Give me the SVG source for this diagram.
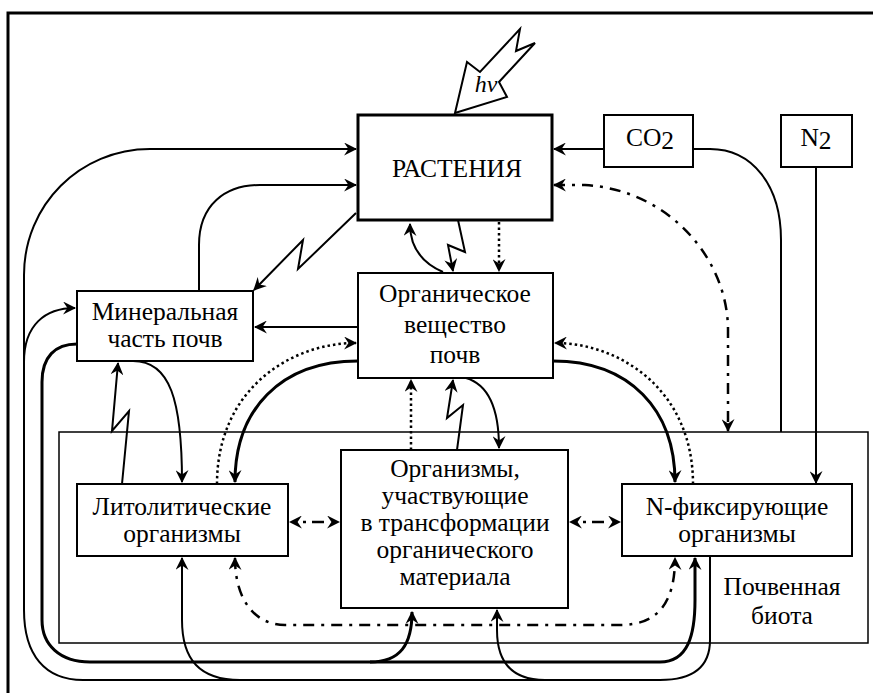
<svg xmlns="http://www.w3.org/2000/svg" width="873" height="693" viewBox="0 0 873 693" font-family="'Liberation Serif', 'DejaVu Serif', serif">
<style>
text{font-family:'Liberation Serif','DejaVu Serif',serif;font-size:25.5px;fill:#000;text-anchor:middle}
.box{fill:#fff;stroke:#000;stroke-width:2}
.c{fill:none;stroke:#000;stroke-width:2}
.t{fill:none;stroke:#000;stroke-width:3}
.dot{fill:none;stroke:#000;stroke-width:2.5;stroke-dasharray:2.5 3}
.dd{fill:none;stroke:#000;stroke-width:2.5;stroke-dasharray:11 7 3 7}
.hd{fill:none;stroke:#000;stroke-width:2.5;stroke-dasharray:0 13 3 6 12 40}
</style>
<defs>
<marker id="ah" viewBox="0 0 12 12" refX="11" refY="6" markerWidth="13" markerHeight="13" orient="auto-start-reverse" markerUnits="userSpaceOnUse">
<path d="M0,0 L12,6 L0,12 L4,6 z" fill="#000"/>
</marker>
</defs>
<rect width="873" height="693" fill="#fff"/>
<path d="M8,693 L8,13 L873,13" fill="none" stroke="#000" stroke-width="3"/>

<g id="biota">
<rect x="59" y="432" width="809" height="211" fill="none" stroke="#000" stroke-width="1.5"/>
<text x="782" y="595">Почвенная</text>
<text x="782" y="624">биота</text>
</g>

<g id="connectors">
<polygon points="455,113 467,62 480,72 520,29 516,51 535,43 499,82 507,97" fill="#fff" stroke="#000" stroke-width="2"/>
<path class="c" d="M604,149 L554,149" marker-end="url(#ah)"/>
<path class="c" d="M693,149 L710,149 C752,149 781,185 781,240 L781,432"/>
<path class="c" d="M816,167 L816,483" marker-end="url(#ah)"/>
<path class="dd" d="M554,185 L585,185 C670,190 728,260 728,330 L728,431" marker-start="url(#ah)" marker-end="url(#ah)"/>
<path class="c" d="M710,556 L710,640 C710,668 692,680 660,680 L83,680 C45,680 24,655 24,610 L24,275 C24,205 80,149 150,149 L356,149" marker-end="url(#ah)"/>
<path class="c" d="M24,362 C24,325 45,308 75,308" marker-end="url(#ah)"/>
<path class="c" d="M240,680 C200,680 182,660 182,620 L182,558" marker-end="url(#ah)"/>
<path class="c" d="M545,680 C510,680 497,660 497,630 L497,610" marker-end="url(#ah)"/>
<path class="t" d="M77,344 C55,344 42,357 42,382 L42,620 C42,645 60,662 90,662 L660,662 C688,662 695,635 695,600 L695,558" marker-end="url(#ah)"/>
<path class="t" d="M370,662 C400,662 412,645 412,612" marker-end="url(#ah)"/>
<path class="c" d="M199,291 L199,245 C199,205 225,185 260,185 L356,185" marker-end="url(#ah)"/>
<path class="c" d="M356,213 L298,269 L303,240 L254,290" marker-end="url(#ah)"/>
<path class="c" d="M358,327 L255,327" marker-end="url(#ah)"/>
<path class="c" d="M122,484 L129,411 L112,431 L118,363" marker-end="url(#ah)"/>
<path class="c" d="M133,361 C170,361 182,400 182,482" marker-end="url(#ah)"/>
<path class="dot" d="M217,484 C217,390 290,343 356,343" marker-end="url(#ah)"/>
<path class="t" d="M358,361 C280,361 235,410 235,482" marker-end="url(#ah)"/>
<path class="t" d="M553,361 C630,361 675,410 675,482" marker-end="url(#ah)"/>
<path class="dot" d="M693,484 C693,390 620,343 555,343" marker-end="url(#ah)"/>
<path class="c" d="M443,272 C420,262 410,245 410,224" marker-end="url(#ah)"/>
<path class="c" d="M458,220 L465,252 L448,245 L453,271" marker-end="url(#ah)"/>
<path class="dot" d="M499,222 L499,271" marker-end="url(#ah)"/>
<path class="dot" d="M411,450 L411,380" marker-end="url(#ah)"/>
<path class="c" d="M457,450 L463,405 L447,418 L453,380" marker-end="url(#ah)"/>
<path class="c" d="M466,378 C490,385 499,410 499,448" marker-end="url(#ah)"/>
<path class="hd" d="M290,522 L339,522" marker-start="url(#ah)" marker-end="url(#ah)"/>
<path class="hd" d="M570,522 L620,522" marker-start="url(#ah)" marker-end="url(#ah)"/>
<path class="dd" d="M235,558 C235,600 255,625 285,625 L620,625 C660,625 675,600 675,558" marker-start="url(#ah)" marker-end="url(#ah)"/>
</g>

<g id="plants">
<rect x="358" y="115" width="194" height="105" fill="#fff" stroke="#000" stroke-width="3"/>
<text x="457" y="177">РАСТЕНИЯ</text>
</g>
<g id="co2">
<rect class="box" x="604" y="115" width="89" height="52"/>
<text x="650" y="146">CO<tspan dy="3">2</tspan></text>
</g>
<g id="n2">
<rect class="box" x="781" y="115" width="71" height="52"/>
<text x="816" y="146">N<tspan dy="3">2</tspan></text>
</g>
<g id="mineral">
<rect class="box" x="77" y="291" width="176" height="70"/>
<text x="165" y="320">Минеральная</text>
<text x="165" y="347">часть почв</text>
</g>
<g id="organic">
<rect class="box" x="358" y="273" width="195" height="105"/>
<text x="455" y="302">Органическое</text>
<text x="455" y="333">вещество</text>
<text x="455" y="363">почв</text>
</g>
<g id="lito">
<rect class="box" x="77" y="484" width="211" height="72"/>
<text x="182" y="515">Литолитические</text>
<text x="182" y="542">организмы</text>
</g>
<g id="organisms">
<rect class="box" x="341" y="450" width="227" height="158"/>
<text x="455" y="477">Организмы,</text>
<text x="455" y="504">участвующие</text>
<text x="455" y="531">в трансформации</text>
<text x="455" y="558">органического</text>
<text x="455" y="585">материала</text>
</g>
<g id="nfix">
<rect class="box" x="622" y="484" width="230" height="72"/>
<text x="737" y="515">N-фиксирующие</text>
<text x="737" y="542">организмы</text>
</g>
<text x="486" y="92" style="font-style:italic;font-size:24px">hv</text>
</svg>
